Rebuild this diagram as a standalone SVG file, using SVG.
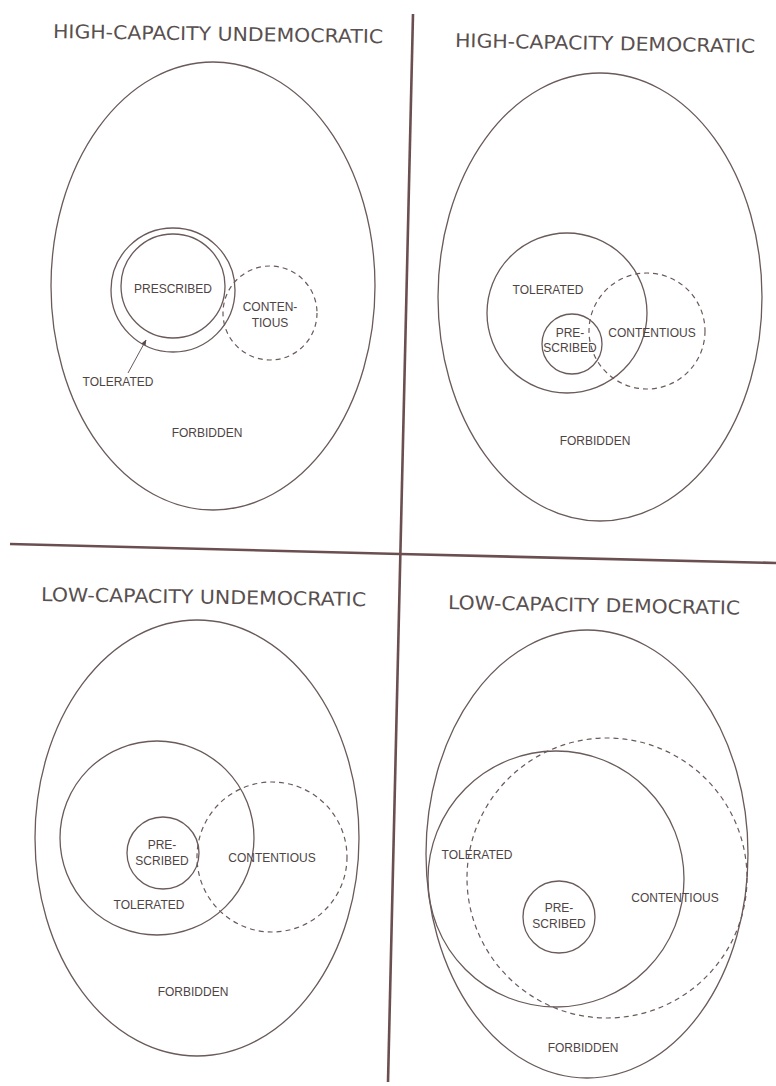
<svg xmlns="http://www.w3.org/2000/svg" width="776" height="1086" viewBox="0 0 776 1086">
<style>
.bg{fill:#ffffff}
.sh{fill:none;stroke:#6a5a5a;stroke-width:1.3}
.ds{fill:none;stroke:#6a5a5a;stroke-width:1.2;stroke-dasharray:5 4}
.div{fill:none;stroke:#6b4f50;stroke-width:2.6}
.lb{font-family:"Liberation Sans",Arial,sans-serif;font-size:12px;fill:#4e4444;text-anchor:middle}
.tt{font-family:"DejaVu Sans","Liberation Sans",sans-serif;font-size:19px;fill:#595050}
.ar{fill:none;stroke:#6a5a5a;stroke-width:1}
</style>
<defs>
<marker id="ah" viewBox="0 0 10 10" refX="9" refY="5" markerWidth="6" markerHeight="6" orient="auto">
<path d="M0,1 L10,5 L0,9 z" fill="#5a4a4a"/>
</marker>
</defs>
<rect class="bg" x="0" y="0" width="776" height="1086"/>
<g id="dividers">
<line class="div" x1="413" y1="14" x2="388" y2="1082"/>
<line class="div" x1="10" y1="544" x2="400" y2="554"/>
<line class="div" x1="400" y1="554" x2="776" y2="563"/>
</g>
<g id="titles">
<text class="tt" x="53" y="38" textLength="330" lengthAdjust="spacingAndGlyphs" transform="rotate(0.9 53 38)">HIGH-CAPACITY UNDEMOCRATIC</text>
<text class="tt" x="455" y="47" textLength="300" lengthAdjust="spacingAndGlyphs" transform="rotate(1.1 455 47)">HIGH-CAPACITY DEMOCRATIC</text>
<text class="tt" x="41" y="601" textLength="325" lengthAdjust="spacingAndGlyphs" transform="rotate(0.9 41 601)">LOW-CAPACITY UNDEMOCRATIC</text>
<text class="tt" x="448" y="609" textLength="292" lengthAdjust="spacingAndGlyphs" transform="rotate(1.1 448 609)">LOW-CAPACITY DEMOCRATIC</text>
</g>
<g id="q1">
<g id="q1-forbidden"><ellipse class="sh" cx="213" cy="286" rx="162" ry="224"/><text class="lb" x="207" y="437">FORBIDDEN</text></g>
<g id="q1-tolerated"><circle class="sh" cx="173" cy="290" r="62"/><text class="lb" x="118" y="386">TOLERATED</text></g>
<g id="q1-prescribed"><circle class="sh" cx="173" cy="286" r="52"/><text class="lb" x="173" y="293">PRESCRIBED</text></g>
<g id="q1-contentious"><circle class="ds" cx="270" cy="313" r="47"/><text class="lb" x="270" y="311">CONTEN-</text><text class="lb" x="270" y="327">TIOUS</text></g>
</g>
<g id="q2">
<g id="q2-forbidden"><ellipse class="sh" cx="600" cy="297" rx="162" ry="224"/><text class="lb" x="595" y="445">FORBIDDEN</text></g>
<g id="q2-tolerated"><circle class="sh" cx="567" cy="313" r="80"/><text class="lb" x="548" y="294">TOLERATED</text></g>
<g id="q2-prescribed"><circle class="sh" cx="572" cy="344" r="30"/><text class="lb" x="570" y="337">PRE-</text><text class="lb" x="570" y="352">SCRIBED</text></g>
<g id="q2-contentious"><circle class="ds" cx="647" cy="331" r="58"/><text class="lb" x="652" y="337">CONTENTIOUS</text></g>
</g>
<g id="q3">
<g id="q3-forbidden"><ellipse class="sh" cx="197" cy="838" rx="162" ry="218"/><text class="lb" x="193" y="996">FORBIDDEN</text></g>
<g id="q3-tolerated"><circle class="sh" cx="157" cy="838" r="97"/><text class="lb" x="149" y="909">TOLERATED</text></g>
<g id="q3-prescribed"><circle class="sh" cx="163" cy="853" r="36"/><text class="lb" x="162" y="849">PRE-</text><text class="lb" x="162" y="865">SCRIBED</text></g>
<g id="q3-contentious"><circle class="ds" cx="272" cy="857" r="75"/><text class="lb" x="272" y="862">CONTENTIOUS</text></g>
</g>
<g id="q4">
<g id="q4-forbidden"><ellipse class="sh" cx="587" cy="854" rx="161" ry="224"/><text class="lb" x="583" y="1052">FORBIDDEN</text></g>
<g id="q4-tolerated"><circle class="sh" cx="556" cy="879" r="128"/><text class="lb" x="477" y="859">TOLERATED</text></g>
<g id="q4-prescribed"><circle class="sh" cx="559" cy="917" r="36"/><text class="lb" x="559" y="912">PRE-</text><text class="lb" x="559" y="928">SCRIBED</text></g>
<g id="q4-contentious"><circle class="ds" cx="607" cy="878" r="140"/><text class="lb" x="675" y="902">CONTENTIOUS</text></g>
</g>
<g id="connectors">
<line class="ar" x1="128" y1="373" x2="146" y2="340" marker-end="url(#ah)"/>
</g>
</svg>
